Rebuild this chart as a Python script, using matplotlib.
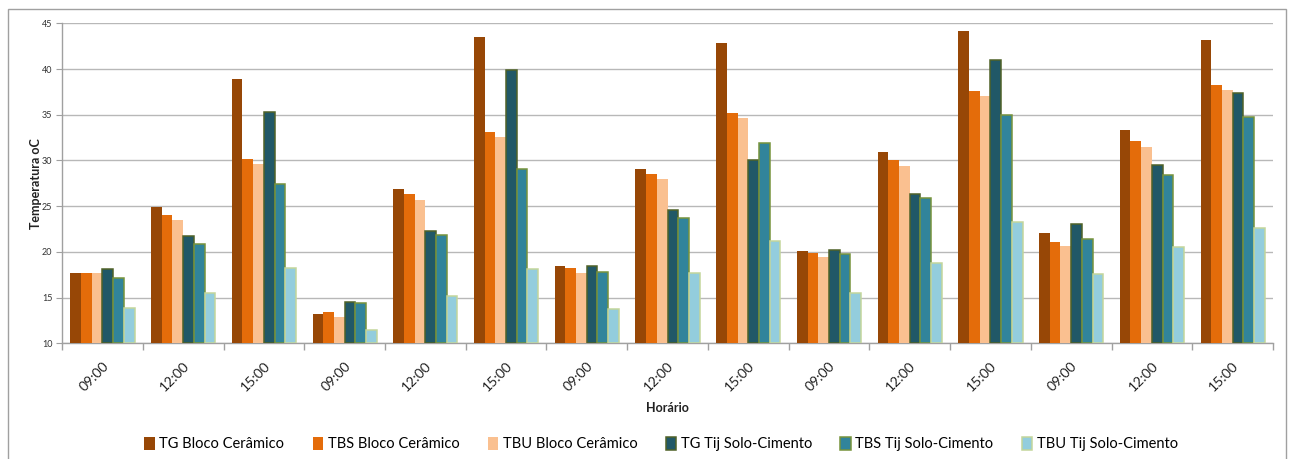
import numpy as np
import matplotlib
matplotlib.use("Agg")
import matplotlib.pyplot as plt
from matplotlib.patches import Rectangle

plt.rcParams['font.family'] = ['Lato', 'DejaVu Sans']

categories = ["09:00", "12:00", "15:00"] * 5

series_names = ["TG Bloco Cerâmico", "TBS Bloco Cerâmico", "TBU Bloco Cerâmico",
                "TG Tij Solo-Cimento", "TBS Tij Solo-Cimento", "TBU Tij Solo-Cimento"]

tg_bloco = [17.7, 24.9, 38.9, 13.2, 26.9, 43.5, 18.4, 29.1, 42.8, 20.1, 30.9, 44.2, 22.1, 33.3, 43.2]
tbs_bloco = [17.7, 24.0, 30.2, 13.4, 26.3, 33.1, 18.2, 28.5, 35.2, 19.9, 30.0, 37.6, 21.1, 32.1, 38.3]
tbu_bloco = [17.7, 23.5, 29.6, 12.9, 25.7, 32.6, 17.7, 28.0, 34.6, 19.4, 29.4, 37.0, 20.6, 31.5, 37.7]
tg_tij = [18.1, 21.7, 35.3, 14.5, 22.3, 39.9, 18.4, 24.6, 30.0, 20.2, 26.3, 41.0, 23.1, 29.5, 37.4]
tbs_tij = [17.1, 20.9, 27.4, 14.4, 21.8, 29.1, 17.8, 23.7, 31.9, 19.8, 25.9, 35.0, 21.4, 28.4, 34.8]
tbu_tij = [13.9, 15.5, 18.2, 11.4, 15.2, 18.1, 13.8, 17.7, 21.2, 15.5, 18.8, 23.3, 17.6, 20.5, 22.6]

series = [tg_bloco, tbs_bloco, tbu_bloco, tg_tij, tbs_tij, tbu_tij]
fills = ["#974706", "#E46C0A", "#FAC090", "#215867", "#31849B", "#93CDDD"]
edges = ["#974706", "#E46C0A", "#FAC090", "#4F6228", "#77933C", "#C3D69B"]
lws = [0, 0, 0, 1.1, 1.1, 1.1]

fig = plt.figure(figsize=(12.9, 4.59), dpi=100)
ax = fig.add_axes([0.0481, 0.2521, 0.9387, 0.6971])

x = np.arange(len(categories))
w = 0.1325
for i, (vals, fc, ec, lw) in enumerate(zip(series, fills, edges, lws)):
    ax.bar(x + (i - 2.5) * w, np.array(vals) - 10, bottom=10, width=w,
           color=fc, edgecolor=ec, linewidth=lw, label=series_names[i], zorder=3)

ax.set_xlim(-0.5, len(categories) - 0.5)
ax.set_ylim(10, 45)
ax.set_yticks(np.arange(10, 46, 5))
ax.tick_params(axis='y', labelsize=6.5, length=4, color='#A0A0A0', pad=3, labelcolor='#333333')
ax.yaxis.grid(True, color='#B8B8B8', linewidth=1.0, zorder=0)

ax.set_xticks(x + 0.05)
ax.set_xticklabels(categories, rotation=45, ha='right', va='center', rotation_mode='anchor',
                   fontsize=10, color='#222222')
ax.tick_params(axis='x', length=0, pad=15)
ax.set_xticks(np.arange(-0.5, len(categories), 1.0), minor=True)
ax.tick_params(axis='x', which='minor', length=5, color='#A0A0A0', width=1.0)

for s in ['top', 'right']:
    ax.spines[s].set_visible(False)
for s in ['left', 'bottom']:
    ax.spines[s].set_color('#A0A0A0')
    ax.spines[s].set_linewidth(1.0)

ax.set_ylabel("Temperatura oC", fontsize=9, fontweight='bold', labelpad=0, color='#222222')
ax.set_xlabel("Horário", fontsize=9, fontweight='bold', labelpad=6, color='#222222')

fig.legend(loc='center', bbox_to_anchor=(0.5125, 0.033), ncol=6, frameon=False,
           fontsize=10.5, handlelength=0.72, handleheight=1.0, handletextpad=0.3,
           columnspacing=1.95)

fig.patches.append(Rectangle((7.5 / 1290, -0.05), (1286 - 7.5) / 1290, 1.05 - 9.5 / 459,
                             transform=fig.transFigure, fill=False, edgecolor='#A0A0A0',
                             linewidth=1.0))

fig.savefig("out.png", dpi=100)
